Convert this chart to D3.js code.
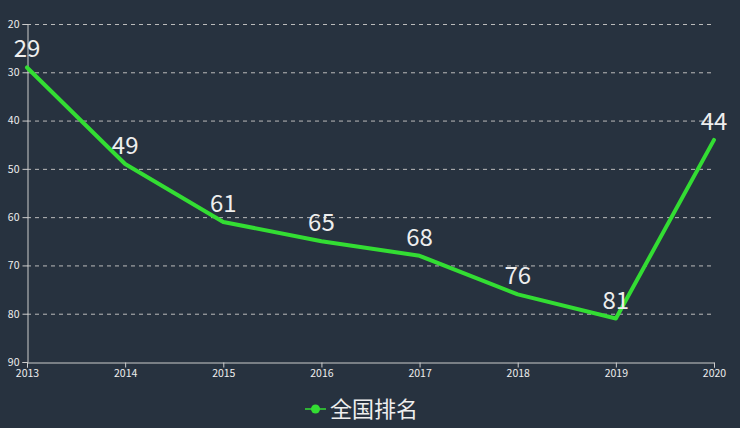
<!DOCTYPE html>
<html><head><meta charset="utf-8">
<script src="https://cdn.jsdelivr.net/npm/d3@7"></script>
<style>html,body{margin:0;padding:0;background:#27323f;}svg{display:block;}</style>
</head><body>
<svg id="c" width="740" height="428"></svg>
<script>
const years = ["2013","2014","2015","2016","2017","2018","2019","2020"];
const ranks = [29,49,61,65,68,76,81,44];
const yTicks = [20,30,40,50,60,70,80,90];
const seriesName = "全国排名";

const W=740,H=428;
const m={left:27,right:26,top:24,bottom:66};
const svg=d3.select("#c");
svg.append("rect").attr("width",W).attr("height",H).attr("fill","#27323f");
const font="'Noto Sans CJK SC','Noto Sans',sans-serif";
const x=d3.scalePoint().domain(years).range([m.left,W-m.right]);
const y=d3.scaleLinear().domain([20,90]).range([m.top,H-m.bottom]);

svg.append("g").selectAll("line").data(yTicks.slice(0,-1)).join("line")
 .attr("x1",m.left).attr("x2",W-m.right).attr("y1",d=>y(d)+0.5).attr("y2",d=>y(d)+0.5)
 .attr("stroke","#bbbbbb").attr("stroke-dasharray","4,4").attr("stroke-width",1);

const ya=svg.append("g").attr("transform",`translate(${m.left+0.5},0)`)
 .call(d3.axisLeft(y).tickValues(yTicks).tickSize(5).tickPadding(3));
const xa=svg.append("g").attr("transform",`translate(0,${H-m.bottom+0.5})`)
 .call(d3.axisBottom(x).tickSize(5).tickPadding(2));
[ya,xa].forEach(a=>{
 a.selectAll("path,line").attr("stroke","#cccccc");
 a.selectAll("text").attr("fill","#eeeeee").attr("font-size",10.5).attr("font-family",font);
});

const line=d3.line().x((d,i)=>x(years[i])).y(d=>y(d));
svg.append("path").datum(ranks).attr("d",line).attr("fill","none")
 .attr("stroke","#33dd33").attr("stroke-width",4).attr("stroke-linejoin","round").attr("stroke-linecap","round");

svg.append("g").selectAll("text").data(ranks).join("text")
 .attr("x",(d,i)=>x(years[i])).attr("y",d=>y(d)-10)
 .attr("text-anchor","middle").attr("fill","#eeeeee").attr("font-size",24).attr("font-family",font)
 .text(d=>d);

const lg=svg.append("g");
lg.append("line").attr("x1",305).attr("x2",326).attr("y1",409).attr("y2",409).attr("stroke","#33dd33").attr("stroke-width",1.5);
lg.append("circle").attr("cx",315.5).attr("cy",409).attr("r",4.5).attr("fill","#33dd33");
lg.append("text").attr("x",330).attr("y",417).attr("fill","#eeeeee").attr("font-size",22).attr("font-family",font).text(seriesName);
</script></body></html>
